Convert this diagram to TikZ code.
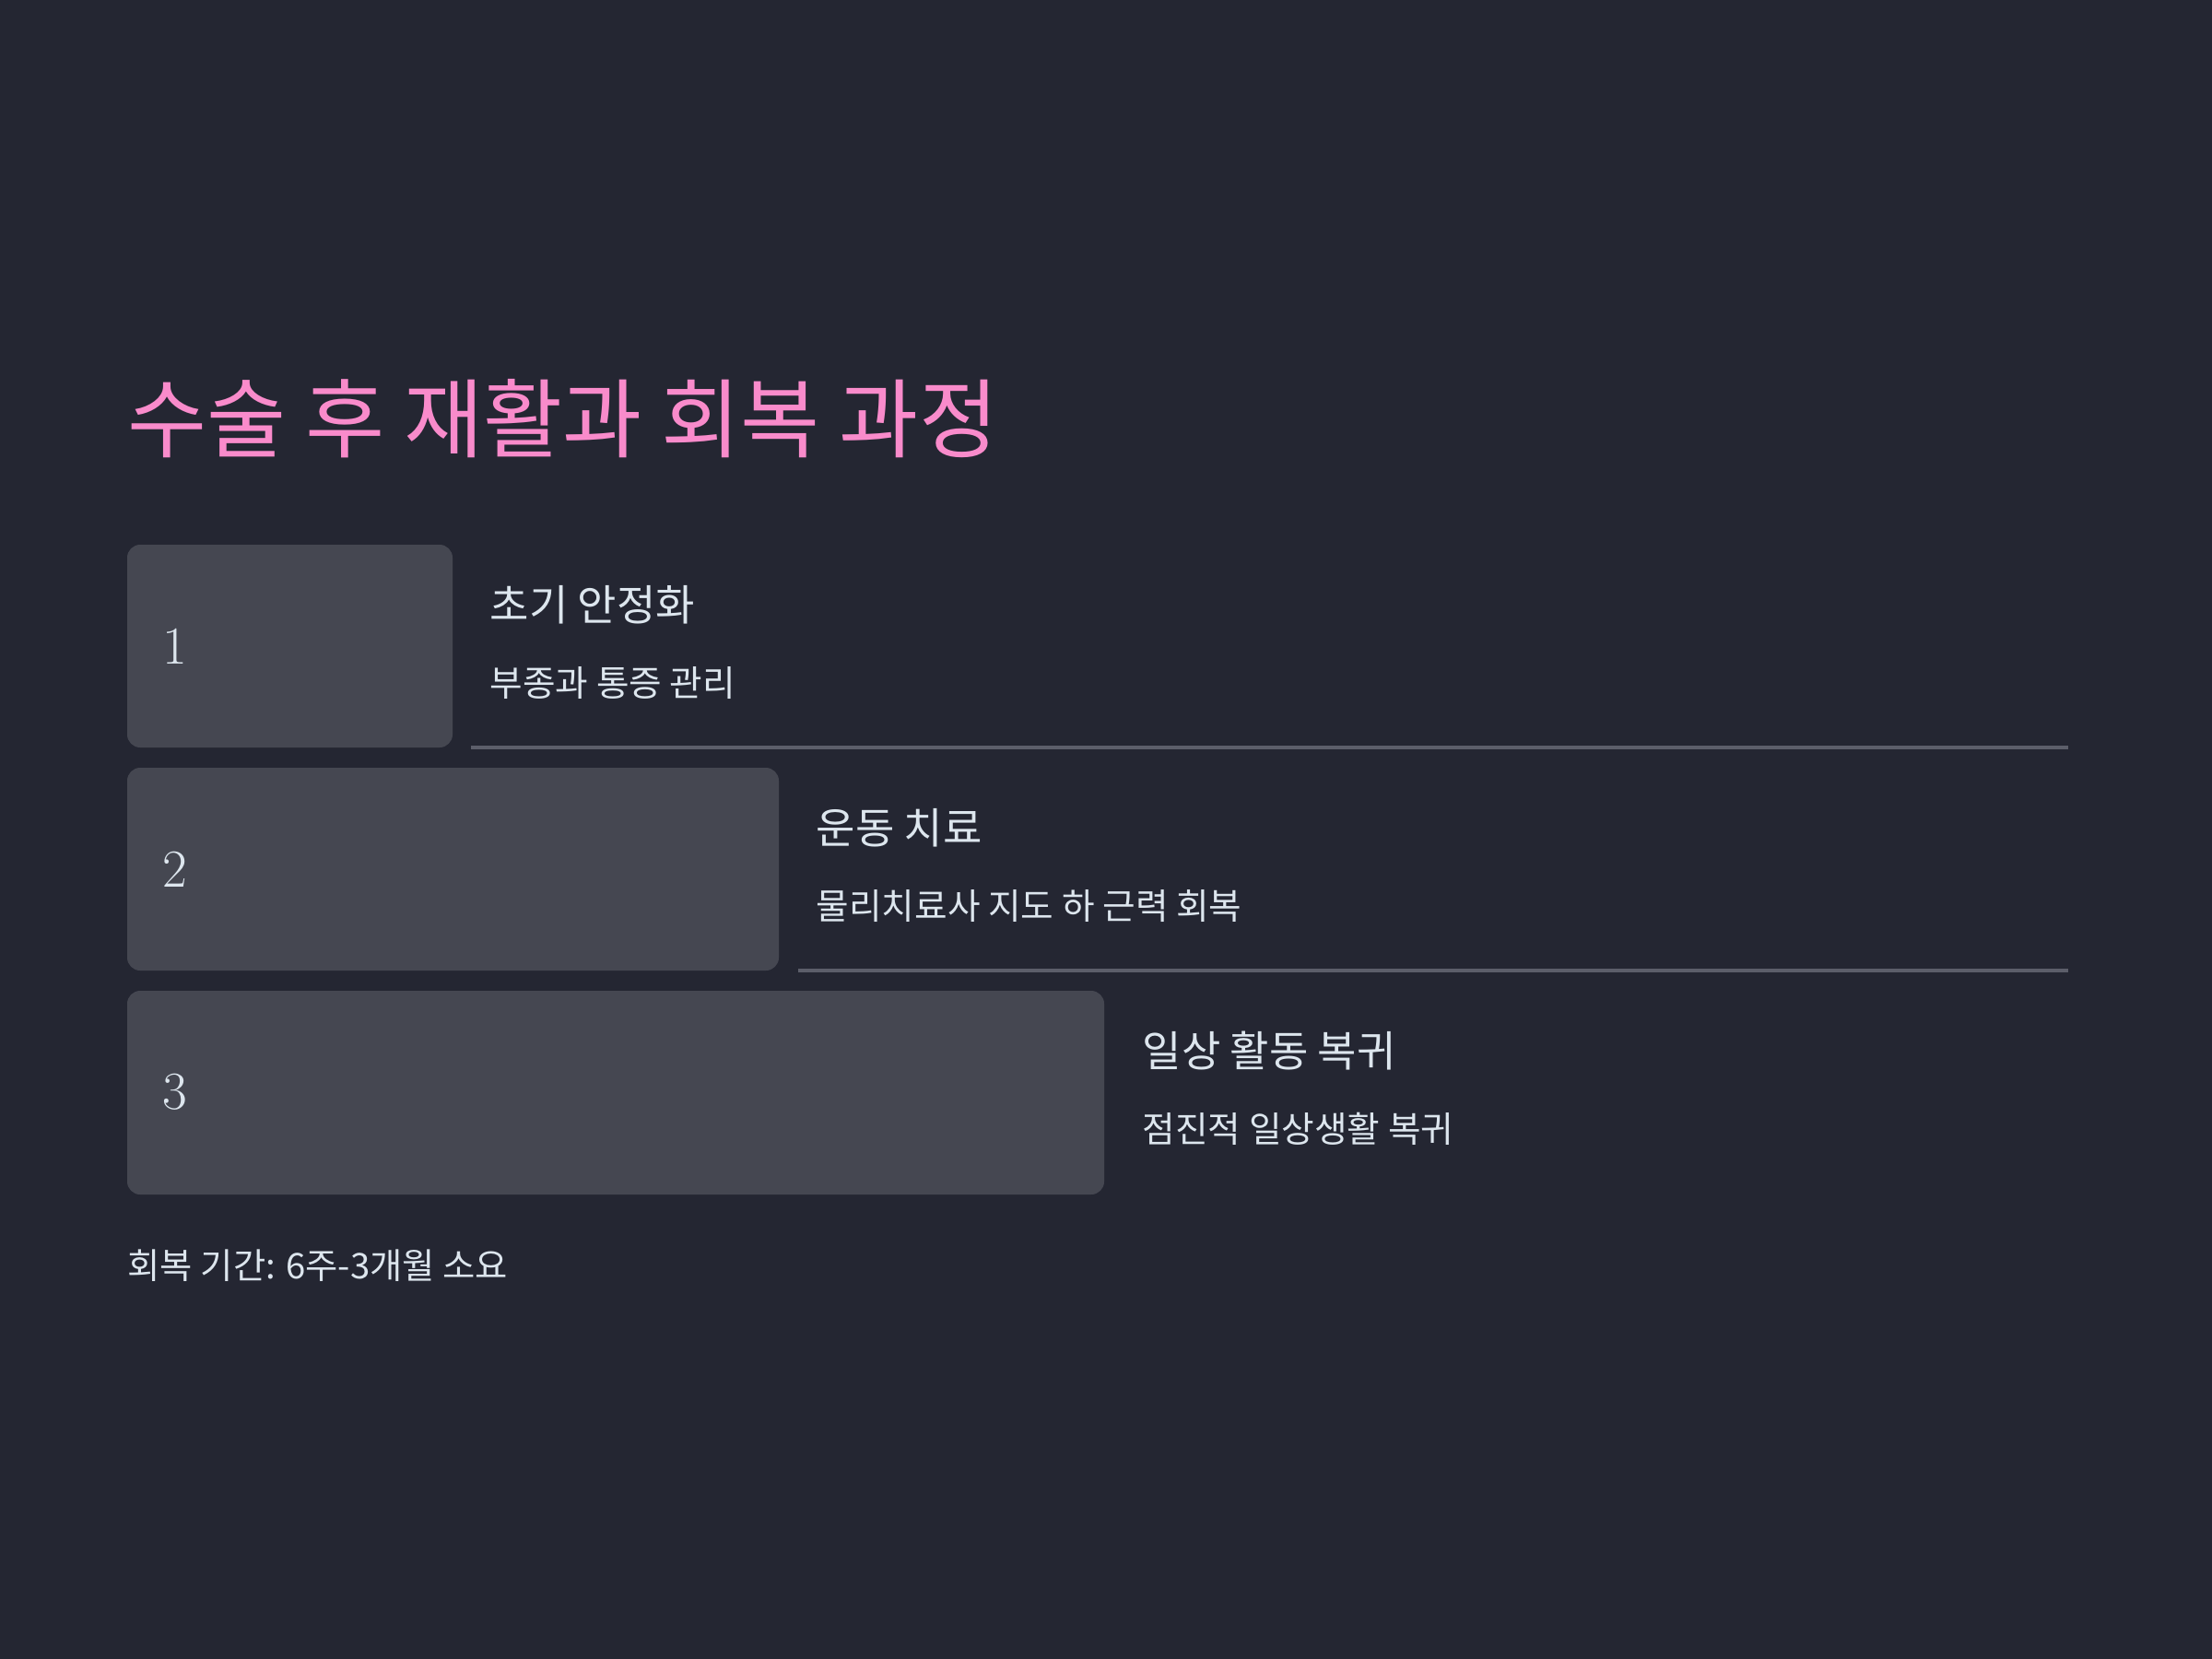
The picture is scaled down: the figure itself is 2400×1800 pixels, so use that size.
\documentclass[tikz,border=0pt]{standalone}
\usepackage{fontspec}
\newfontfamily\kr{Noto Sans CJK KR}
\definecolor{bg}{HTML}{242632}
\definecolor{boxc}{HTML}{454751}
\definecolor{pinkc}{HTML}{F98BCB}
\definecolor{txt}{HTML}{DDE6EE}
\definecolor{rule}{HTML}{5C5E6A}
\tikzset{
  stepbox/.style={fill=boxc, rounded corners=4},
  numtxt/.style={anchor=west, inner sep=0, text=txt, font=\fontsize{16.5pt}{20pt}\selectfont},
  headtxt/.style={anchor=base west, inner sep=0, text=txt, font=\kr\fontsize{13.1pt}{16pt}\selectfont},
  subtxt/.style={anchor=base west, inner sep=0, text=txt, font=\kr\fontsize{11pt}{14pt}\selectfont},
  foottxt/.style={anchor=base west, inner sep=0, text=txt, font=\kr\fontsize{10.9pt}{14pt}\selectfont},
  rowrule/.style={draw=rule, line width=1.2pt},
}
\begin{document}
\begin{tikzpicture}[x=0.01cm,y=-0.01cm]
\path[fill=bg] (0,0) rectangle (2400,1800);
\useasboundingbox (0,0) rectangle (2400,1800);
\node[anchor=base west, inner sep=0, text=pinkc, font=\kr\fontsize{26.6pt}{32pt}\selectfont] (title) at (138,489) {수술 후 재활과 회복 과정};
% row 1
\path[stepbox] (138,591) rectangle (491,811);
\node[numtxt] (n1) at (176,701) {1};
\node[headtxt] (h1) at (531,673) {초기 안정화};
\node[subtxt] (s1) at (531,755) {부종과 통증 관리};
\coordinate (l1a) at (511,811);
\coordinate (l1b) at (2244,811);
\draw[rowrule] (l1a) -- (l1b);
% row 2
\path[stepbox] (138,833) rectangle (845,1053);
\node[numtxt] (n2) at (176,943) {2};
\node[headtxt] (h2) at (885,915) {운동 치료};
\node[subtxt] (s2) at (885,997) {물리치료사 지도 하 근력 회복};
\coordinate (l2a) at (866,1053);
\coordinate (l2b) at (2244,1053);
\draw[rowrule] (l2a) -- (l2b);
% row 3
\path[stepbox] (138,1075) rectangle (1198,1296);
\node[numtxt] (n3) at (176,1185) {3};
\node[headtxt] (h3) at (1239,1157) {일상 활동 복귀};
\node[subtxt] (s3) at (1239,1239) {점진적 일상생활 복귀};
% footer
\node[foottxt] (foot) at (138,1387) {회복 기간: 6주-3개월 소요};
\end{tikzpicture}
\end{document}
